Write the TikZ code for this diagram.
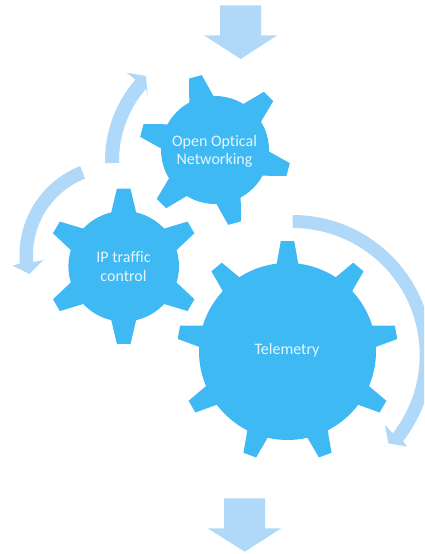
\documentclass[tikz,border=0pt]{standalone}
\usepackage{fontspec}
\setmainfont{Carlito}[Ligatures=NoCommon]
\definecolor{gearblue}{HTML}{3FB9F3}
\definecolor{arrowblue}{HTML}{B0D8F8}
\definecolor{gearText}{HTML}{E6F6FF}
\tikzset{
  gearfill/.style={fill=gearblue,draw=none},
  arrowfill/.style={fill=arrowblue,draw=none},
  gearlabel/.style={text=gearText,font=\fontsize{16}{18.2}\selectfont,align=center,inner sep=0pt}
}
% #1 centre x, #2 centre y (up), #3 body r, #4 tip r, #5 base half angle, #6 tip half angle, #7 first angle, #8 second angle, #9 last angle
\newcommand\gearwheel[9]{%
  \begin{scope}[shift={(#1,#2)}]
    \fill[gearfill] (0,0) circle[radius=#3pt];
    \foreach \a in {#7,#8,...,#9}{
      \fill[gearfill] (\a-#5:#3-1) -- (\a-#5:#3) -- (\a-#6:#4) -- (\a+#6:#4) -- (\a+#5:#3) -- (\a+#5:#3-1) -- cycle;
    }
  \end{scope}}
\begin{document}
\begin{tikzpicture}[x=1pt,y=1pt]
\useasboundingbox (0,0) rectangle (424,554);
\clip (0,0) rectangle (424,554);
% straight arrows
\fill[arrowfill] (220,548.7) -- (261,548.7) -- (261,518.7) -- (277.3,518.7) -- (240.7,495) -- (204,518.7) -- (220,518.7) -- cycle;
\fill[arrowfill] (224,55.7) -- (265,55.7) -- (265,25.7) -- (281.3,25.7) -- (244.7,2.3) -- (207.7,25.7) -- (224,25.7) -- cycle;
% curved arrow, right
\coordinate (ca) at (292.7,199);
\fill[arrowfill] ([shift={(90:140)}]ca) arc[start angle=90,end angle=-38,radius=140pt]
  -- (407.3,107.3) -- (388.3,110.7) -- (385,129) -- ([shift={(-38:127)}]ca) arc[start angle=-38,end angle=90,radius=127pt] -- cycle;
% curved arrow, lower left
\coordinate (cb) at (115,299);
\fill[arrowfill] ([shift={(111.4:95.5)}]cb) arc[start angle=111.4,end angle=185,radius=95.5pt]
  -- (12.7,288.3) -- (29.3,280) -- (43.3,294) -- ([shift={(185:82)}]cb) arc[start angle=185,end angle=111.4,radius=82pt] -- cycle;
% curved arrow, upper left
\coordinate (cc) at (229,393);
\fill[arrowfill] ([shift={(181:124)}]cc) arc[start angle=181,end angle=139,radius=124pt]
  -- (126.7,481.3) -- (146,478) -- (147.7,458) -- ([shift={(139:110)}]cc) arc[start angle=139,end angle=181,radius=110pt] -- cycle;
% gears
\gearwheel{215}{404}{54}{76}{13.4}{5}{45}{105}{345}
\gearwheel{123.7}{287.7}{55.3}{78}{13}{5}{30}{90}{330}
\gearwheel{287.5}{202.5}{88.5}{110.5}{7}{3.5}{10}{50}{330}
% labels
\node[gearlabel] (optical) at (214.5,402.5) {Open Optical\\Networking};
\node[gearlabel] (ip) at (123.5,287.5) {IP traffic\\control};
\node[gearlabel] (telemetry) at (287,203.8) {Telemetry};
\end{tikzpicture}
\end{document}
